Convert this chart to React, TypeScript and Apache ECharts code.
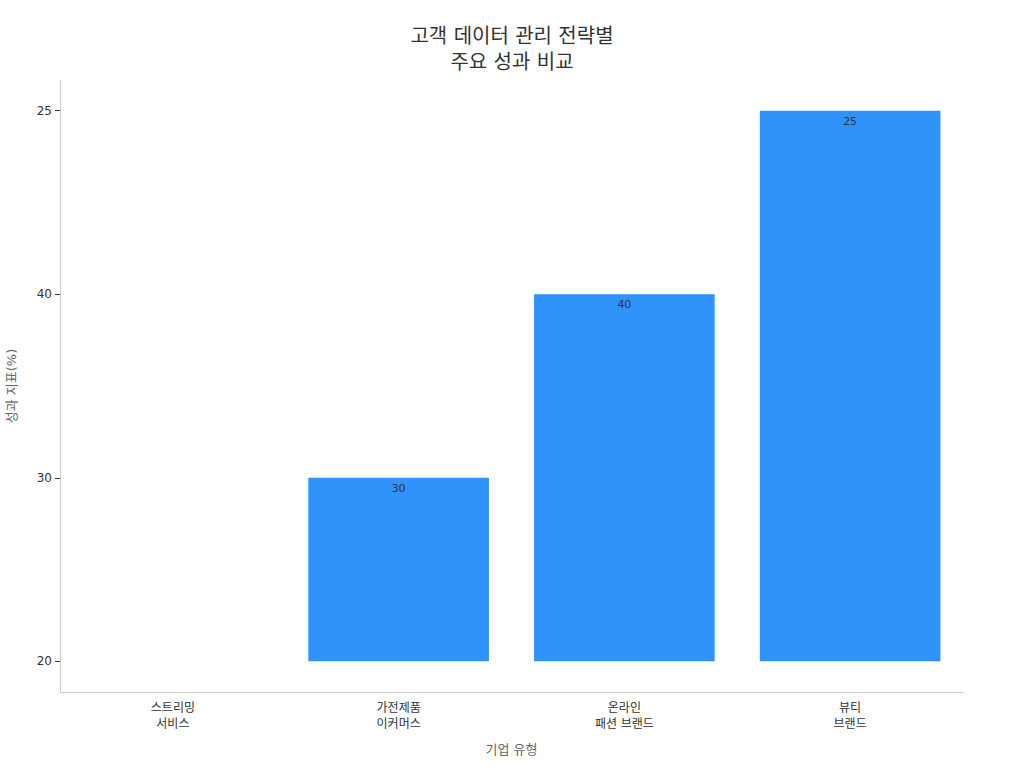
import React, { useEffect, useRef } from "react";
import * as echarts from "echarts";

const categories = ["스트리밍\n서비스", "가전제품\n이커머스", "온라인\n패션 브랜드", "뷰티\n브랜드"];
const yLabels = ["20", "30", "40", "25"];
const values = ["20", "30", "40", "25"];

const FONT = "DejaVu Sans, 'Noto Sans CJK KR', sans-serif";

export default function App() {
  const ref = useRef<HTMLDivElement>(null);
  useEffect(() => {
    document.body.style.margin = "0";
    if (!ref.current) return;
    const chart = echarts.init(ref.current, undefined, { renderer: "svg" });
    const barData = values.map((v) => yLabels.indexOf(v));
    const tickVals = yLabels.map((_, i) => i);
    chart.setOption({
      animation: false,
      textStyle: { fontFamily: FONT },
      title: {
        text: "고객 데이터 관리 전략별\n주요 성과 비교",
        left: "center",
        top: 18,
        textStyle: { fontFamily: FONT, fontSize: 20, fontWeight: "normal", color: "#333", lineHeight: 26 },
      },
      grid: { left: 60, right: 61, top: 80, bottom: 76, containLabel: false, outerBoundsMode: "none" },
      xAxis: {
        type: "category",
        data: categories,
        boundaryGap: true,
        name: "기업 유형",
        nameLocation: "middle",
        nameGap: 51,
        nameTextStyle: { fontFamily: FONT, fontSize: 13, color: "#666" },
        axisLine: { onZero: false, lineStyle: { color: "#ccc" } },
        axisTick: { alignWithLabel: true, length: 5, lineStyle: { color: "#999" } },
        axisLabel: { fontFamily: FONT, fontSize: 12, color: "#333", lineHeight: 16, margin: 8 },
      },
      yAxis: {
        type: "value",
        min: -0.167,
        max: 3.167,
        name: "성과 지표(%)",
        nameLocation: "middle",
        nameGap: 42,
        nameRotate: 90,
        nameTextStyle: { fontFamily: FONT, fontSize: 13, color: "#666" },
        splitLine: { show: false },
        axisLine: { show: true, onZero: false, lineStyle: { color: "#ccc" } },
        axisTick: { show: true, length: 5, customValues: tickVals, lineStyle: { color: "#333" } },
        axisLabel: {
          fontFamily: FONT,
          fontSize: 12,
          color: "#333",
          margin: 8,
          customValues: tickVals,
          formatter: (v: number) => yLabels[Math.round(v)] ?? "",
        },
      },
      series: [
        {
          type: "bar",
          data: barData,
          barWidth: "80%",
          itemStyle: { color: "#2f93f9" },
          label: {
            show: true,
            position: "insideTop",
            distance: 5,
            fontFamily: FONT,
            fontSize: 11,
            color: "#333",
            formatter: (p: any) => (barData[p.dataIndex] === 0 ? "" : values[p.dataIndex]),
          },
        },
      ],
    });
    return () => chart.dispose();
  }, []);
  return <div ref={ref} style={{ width: 1024, height: 768 }} />;
}
